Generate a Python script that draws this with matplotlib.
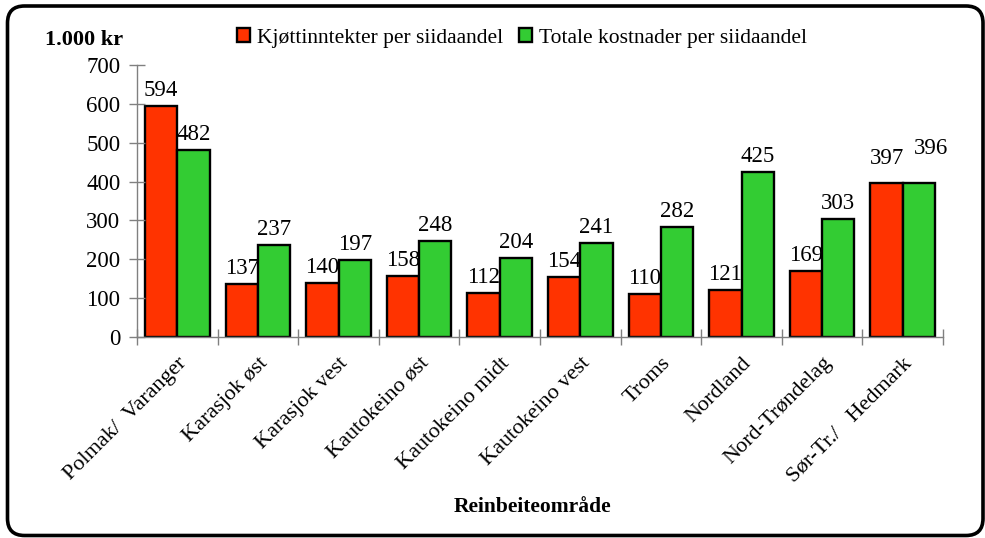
import matplotlib
matplotlib.use("Agg")
import matplotlib.pyplot as plt
import numpy as np
from matplotlib.patches import FancyBboxPatch

categories = ["Polmak/  Varanger", "Karasjok øst", "Karasjok vest", "Kautokeino øst",
              "Kautokeino midt", "Kautokeino vest", "Troms", "Nordland",
              "Nord-Trøndelag", "Sør-Tr./   Hedmark"]
kjott = [594, 137, 140, 158, 112, 154, 110, 121, 169, 397]
kostn = [482, 237, 197, 248, 204, 241, 282, 425, 303, 396]
series_names = ["Kjøttinntekter per siidaandel", "Totale kostnader per siidaandel"]
yticks = [0, 100, 200, 300, 400, 500, 600, 700]

plt.rcParams['font.family'] = ['Liberation Serif', 'DejaVu Serif']

W, H = 985, 538
fig = plt.figure(figsize=(W/100, H/100), dpi=100)

# border overlay in pixel coordinates
bax = fig.add_axes([0, 0, 1, 1], zorder=-1)
bax.set_xlim(0, W)
bax.set_ylim(H, 0)
bax.axis("off")
border = FancyBboxPatch((7.5, 6), 983 - 7.5, 535.5 - 6,
                        boxstyle="round,pad=0,rounding_size=17",
                        facecolor="white", edgecolor="black", linewidth=2.6)
bax.add_patch(border)

ax = fig.add_axes([137/W, 1-337/H, (943-137)/W, (337-65)/H])
ax.patch.set_alpha(0)

x = np.arange(len(categories))
w = 0.4
red = "#FF3300"
green = "#33CC33"
b1 = ax.bar(x - w/2, kjott, w, color=red, edgecolor="black", linewidth=1.7, label=series_names[0])
b2 = ax.bar(x + w/2, kostn, w, color=green, edgecolor="black", linewidth=1.7, label=series_names[1])

# label placement offsets in pixels (dx, extra dy), as placed in the original
off_red = {9: (0, 9)}
off_green = {9: (12, 19)}
for i, (xi, v) in enumerate(zip(x - w/2, kjott)):
    dx, dy = off_red.get(i, (0, 0))
    ax.annotate(str(v), (xi, v), xytext=(dx*0.72, (5 + dy)*0.72), textcoords="offset points",
                ha="center", va="bottom", fontsize=16.5)
for i, (xi, v) in enumerate(zip(x + w/2, kostn)):
    dx, dy = off_green.get(i, (0, 0))
    ax.annotate(str(v), (xi, v), xytext=(dx*0.72, (5 + dy)*0.72), textcoords="offset points",
                ha="center", va="bottom", fontsize=16.5)

ax.set_xlim(-0.5, len(categories) - 0.5)
ax.set_ylim(0, 700)
ax.set_yticks(yticks)
ax.set_yticklabels([str(t) for t in yticks], fontsize=16.5)
ax.tick_params(axis="y", direction="inout", length=12, width=1, color="#808080", pad=6)

ax.set_xticks(np.arange(len(categories) + 1) - 0.5)
ax.set_xticklabels([])
ax.tick_params(axis="x", direction="inout", length=12, width=1, color="#808080")
ax.set_xticks(x, minor=True)
ax.set_xticklabels(categories, minor=True, rotation=45, ha="right", va="top",
                   rotation_mode="anchor", fontsize=16)
ax.tick_params(axis="x", which="minor", length=0, pad=12)

for s in ["top", "right"]:
    ax.spines[s].set_visible(False)
for s in ["left", "bottom"]:
    ax.spines[s].set_color("#808080")
    ax.spines[s].set_linewidth(1)

fig.text(45/W, 1-40/H, "1.000 kr", fontsize=16, fontweight="bold", ha="left", va="center")
fig.text(533/W, 1-507/H, "Reinbeiteområde", fontsize=15.5, fontweight="bold", ha="center", va="center")

fig.legend(handles=[b1, b2], loc="center", bbox_to_anchor=(522/W, 1-38/H), ncol=2,
           frameon=False, fontsize=15.5, handlelength=0.6, handleheight=0.6,
           handletextpad=0.3, columnspacing=0.75, borderaxespad=0)

fig.savefig("out.png", dpi=100)
